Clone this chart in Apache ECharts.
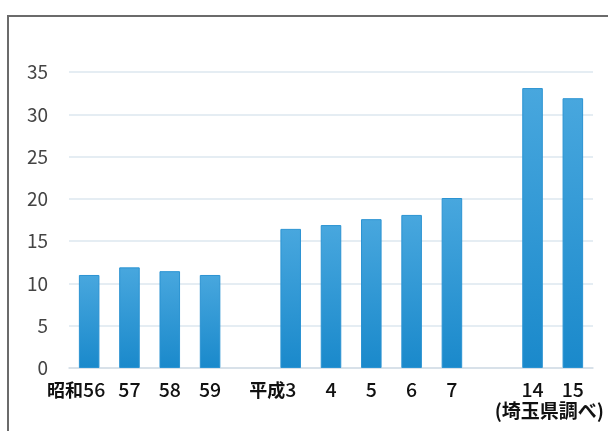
<!DOCTYPE html>
<html>
<head>
<meta charset="utf-8">
<script src="https://cdn.jsdelivr.net/npm/echarts@6/dist/echarts.min.js"></script>
<style>
html,body{margin:0;padding:0;background:#fff;}
#c{width:608px;height:431px;}
</style>
</head>
<body>
<div id="c"></div>
<script>
// Data
const categories = ['昭和56', '57', '58', '59', '', '平成3', '4', '5', '6', '7', '', '14', '15'];
const values = [11.0, 11.9, 11.45, 11.0, '-', 16.45, 16.9, 17.6, 18.1, 20.1, '-', 33.1, 31.9];
const yTicks = { min: 0, max: 35, interval: 5 };
const sourceNote = '(埼玉県調べ)';

const chart = echarts.init(document.getElementById('c'), null, { renderer: 'canvas' });
const font = '"Noto Sans CJK JP", "Noto Sans", sans-serif';

chart.setOption({
  animation: false,
  backgroundColor: '#ffffff',
  grid: { left: 69, right: 15, top: 72, bottom: 63, containLabel: false },
  xAxis: {
    type: 'category',
    data: categories,
    axisLine: { show: true, lineStyle: { color: '#d3dde6', width: 1.5 } },
    axisTick: { show: false },
    axisLabel: {
      interval: 0,
      margin: 12,
      color: '#111',
      fontSize: 19,
      fontFamily: font,
      formatter: function (v) {
        if (v.indexOf('昭和') === 0) return '{p|昭和}{t|' + v.slice(2) + '}{s1|}';
        if (v.indexOf('平成') === 0) return '{p|平成}{t|' + v.slice(2) + '}{s2|}';
        return '{t|' + v + '}';
      },
      rich: {
        p: { fontSize: 18, fontFamily: font, fontWeight: 'bold', color: '#111' },
        t: { fontSize: 19.5, fontFamily: font, fontWeight: 500, color: '#111' },
        s1: { width: 26 },
        s2: { width: 36 }
      }
    }
  },
  yAxis: {
    type: 'value',
    min: yTicks.min,
    max: yTicks.max,
    interval: yTicks.interval,
    axisLine: { show: false },
    axisTick: { show: false },
    splitLine: { lineStyle: { color: '#dde7ef', width: 1.5 } },
    axisLabel: { color: '#444', fontSize: 19, fontFamily: font, margin: 21 }
  },
  series: [{
    type: 'bar',
    data: values,
    barWidth: '51%',
    itemStyle: {
      color: new echarts.graphic.LinearGradient(0, 0, 0, 1, [
        { offset: 0, color: '#48a7de' },
        { offset: 1, color: '#1a89cb' }
      ]),
      borderColor: '#2b93d2',
      borderWidth: 1
    }
  }],
  graphic: [
    {
      type: 'rect',
      shape: { x: 8, y: 16, width: 640, height: 460 },
      style: { fill: 'none', stroke: '#6b6b6b', lineWidth: 2 },
      z: 10
    },
    {
      type: 'text',
      right: 4,
      top: 401,
      style: { text: sourceNote, fontSize: 19, fontFamily: font, fontWeight: 'bold', fill: '#111' }
    }
  ]
});
</script>
</body>
</html>
